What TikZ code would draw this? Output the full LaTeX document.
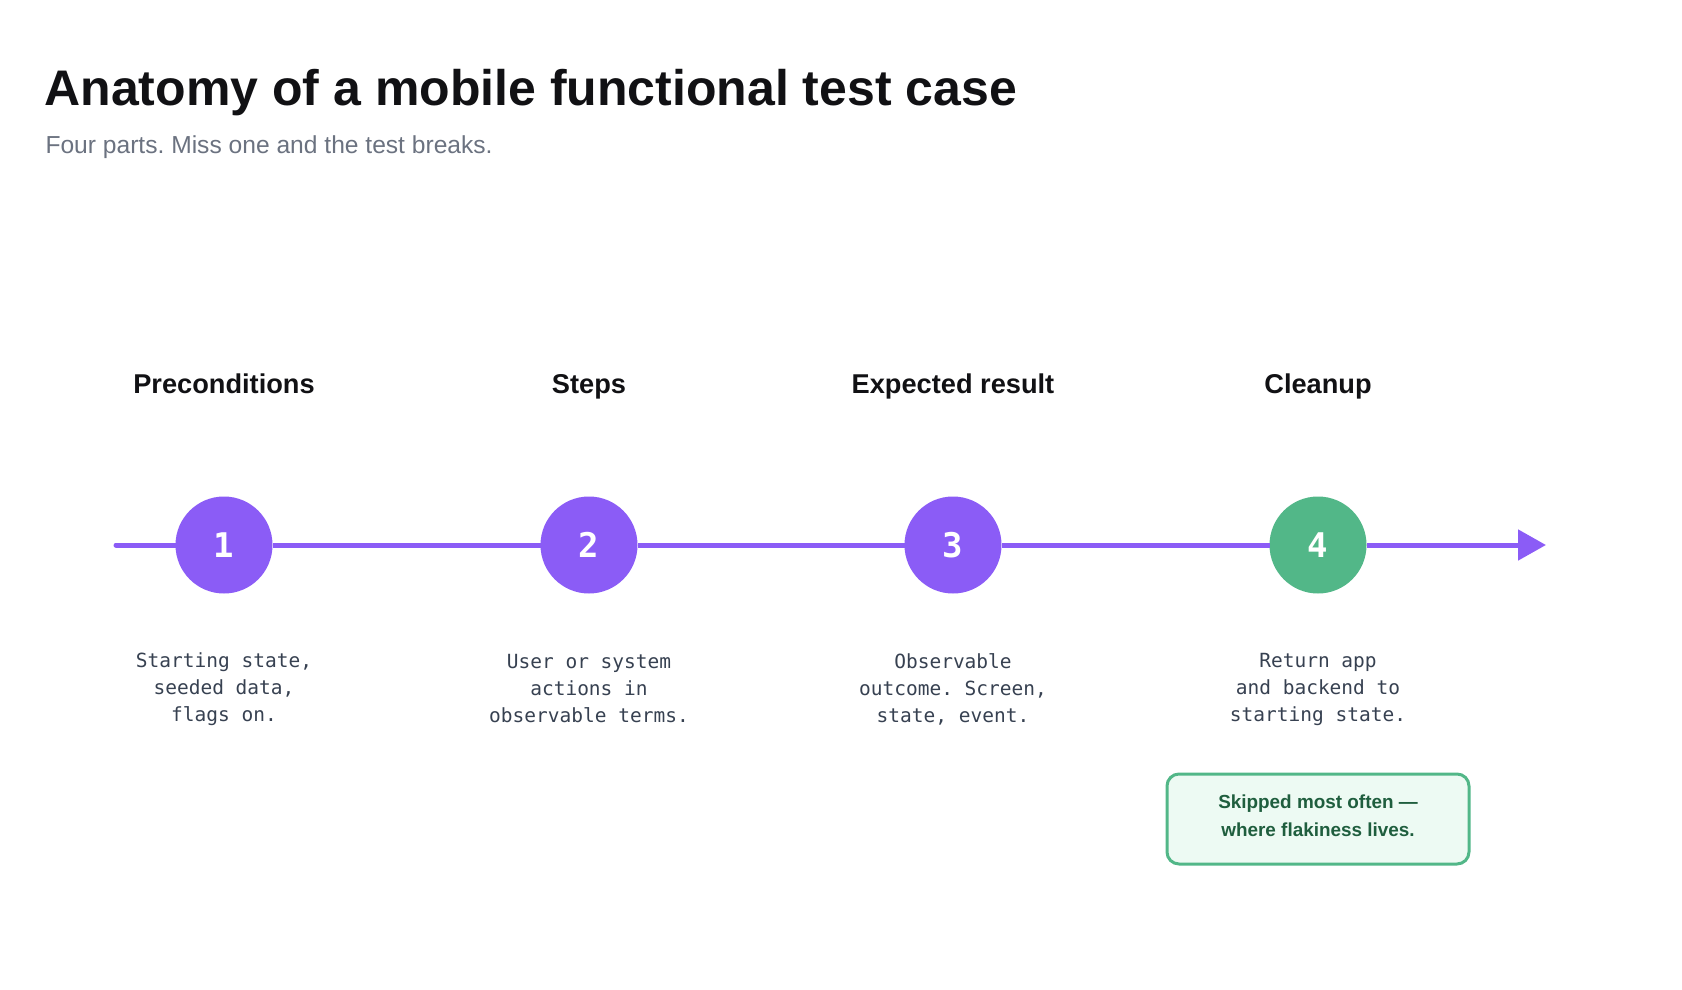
\documentclass[tikz,border=0pt]{standalone}
\usepackage{fontspec}
\setmainfont{Liberation Sans}
\newfontfamily\monofont{DejaVu Sans Mono}
\usetikzlibrary{arrows.meta}
\definecolor{violet}{HTML}{8B5CF6}
\definecolor{mint}{HTML}{52B788}
\definecolor{mintbg}{HTML}{EDFAF3}
\definecolor{mintdark}{HTML}{1F5E3E}
\definecolor{ink}{HTML}{111114}
\definecolor{slate}{HTML}{6B7280}
\definecolor{body}{HTML}{374151}
\frenchspacing
\begin{document}
\begin{tikzpicture}[x=1pt,y=-1pt]
\tikzstyle{stage}=[circle,fill=violet,minimum size=97pt,inner sep=0pt,outer sep=0pt,text=white,font=\monofont\bfseries\fontsize{34}{34}\selectfont]
\tikzstyle{lastStage}=[stage,fill=mint]
\tikzstyle{head}=[anchor=base,text=ink,font=\bfseries\fontsize{27.2}{30}\selectfont]
\tikzstyle{desc}=[align=center,text=body,font=\monofont\fontsize{19.5}{27}\selectfont]
\tikzstyle{track}=[draw=violet,line width=5pt]
\useasboundingbox (0,0) rectangle (1682,990);

%get title.
\node[anchor=base west,text=ink,font=\bfseries\fontsize{50}{60}\selectfont] (title) at (41,105) {Anatomy of a mobile functional test case};
\node[anchor=base west,text=slate,font=\fontsize{24.6}{28}\selectfont] (subtitle) at (42,153) {Four parts. Miss one and the test breaks.};

%get headings.
\node[head] (hPre)   at (224,393)  {Preconditions};
\node[head] (hSteps) at (589,393)  {Steps};
\node[head] (hExp)   at (953,393)  {Expected result};
\node[head] (hClean) at (1318,393) {Cleanup};

\node[stage] (pre)   at (224,545)  {1};
\node[stage] (steps) at (589,545)  {2};
\node[stage] (exp)   at (953,545)  {3};
\node[lastStage] (clean) at (1318,545) {4};

\coordinate (trackStart) at (116,545);
\coordinate (trackEnd)   at (1546,545);
\draw[track,line cap=round] (trackStart) -- (pre);
\draw[track] (pre) -- (steps);
\draw[track] (steps) -- (exp);
\draw[track] (exp) -- (clean);
\draw[track,-{Triangle[length=28pt,width=30pt]}] (clean) -- (trackEnd);

\node[desc] (dPre)   at (224,689)  {Starting state,\\seeded data,\\flags on.};
\node[desc] (dSteps) at (589,689)  {User or system\\actions in\\observable terms.};
\node[desc] (dExp)   at (953,689)  {Observable\\outcome. Screen,\\state, event.};
\node[desc] (dClean) at (1318,689) {Return app\\and backend to\\starting state.};

\node[draw=mint,line width=3pt,fill=mintbg,rounded corners=12pt,minimum width=302pt,minimum height=90pt,align=center,text=mintdark,font=\bfseries\fontsize{18.9}{28}\selectfont] (skipNote) at (1318,819) {Skipped most often ---\\where flakiness lives.\rule[-6pt]{0pt}{0pt}};
\end{tikzpicture}
\end{document}
